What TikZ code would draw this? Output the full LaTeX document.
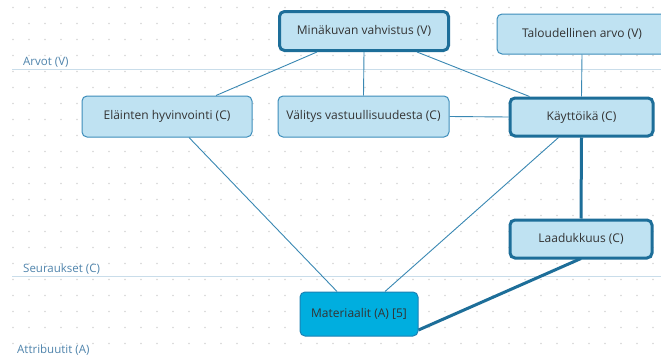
\documentclass[tikz,border=0pt]{standalone}
\usepackage{fontspec}
\setmainfont{Open Sans}
\begin{document}
\begin{tikzpicture}[x=1pt,y=-1pt,
  box/.style={draw=boxedge,fill=boxfill,rounded corners=5pt,line width=1pt,
    inner sep=0pt,text=black!80,font=\fontsize{12}{14}\selectfont},
  heavy/.style={line width=3pt,draw=heavyedge},
  attr/.style={box,fill=attrfill,draw=attredge},
  link/.style={draw=linkcol,line width=0.9pt},
  strong/.style={draw=heavyedge,line width=3pt},
  level/.style={draw=levelcol,line width=0.7pt},
  levellabel/.style={anchor=base west,text=labelcol,inner sep=0pt,font=\fontsize{11.5}{13}\selectfont}]
\definecolor{boxfill}{HTML}{BFE2F2}
\definecolor{boxedge}{HTML}{3D8DBA}
\definecolor{heavyedge}{HTML}{1D6E99}
\definecolor{attrfill}{HTML}{00AEDF}
\definecolor{attredge}{HTML}{1B82B5}
\definecolor{linkcol}{HTML}{3A88B3}
\definecolor{levelcol}{HTML}{C9DDEA}
\definecolor{labelcol}{HTML}{4F84AC}
\definecolor{dotcol}{HTML}{D6D6D6}
\useasboundingbox (0,0) rectangle (661,356);
\fill[white] (0,0) rectangle (661,356);
% background dot grid
\foreach \i in {0,...,40} {
  \foreach \j in {0,...,21} {
    \fill[dotcol] ({13+16*\i},{7.5+16*\j}) circle (0.9);
  }
}
% level separators and their labels
\draw[level] (12,69) -- (661,69);
\draw[level] (12,276) -- (661,276);
\node[levellabel] (lv) at (23,65) {Arvot (V)};
\node[levellabel] (lc) at (23,272) {Seuraukset (C)};
\node[levellabel] (la) at (17,353) {Attribuutit (A)};
% value level
\node[box,heavy,minimum width=169pt,minimum height=39pt] (min) at (364,31) {Minäkuvan vahvistus (V)};
\node[box,minimum width=170pt,minimum height=40pt] (tal) at (582,34) {Taloudellinen arvo (V)};
% consequence level
\node[box,minimum width=170pt,minimum height=41pt] (ela) at (167,116.5) {Eläinten hyvinvointi (C)};
\node[box,minimum width=171pt,minimum height=41pt] (val) at (363.5,116.5) {Välitys vastuullisuudesta (C)};
\node[box,heavy,minimum width=143pt,minimum height=38pt] (kay) at (581.5,117) {Käyttöikä (C)};
\node[box,heavy,minimum width=142pt,minimum height=38pt] (laa) at (581,239) {Laadukkuus (C)};
% attribute level
\node[attr,minimum width=118pt,minimum height=44pt] (mat) at (359,314) {Materiaalit (A) [5]};
% connections
\draw[link] ([xshift=-47pt]min.south) -- ([xshift=49pt]ela.north);
\draw[link] (min.south) -- (val.north);
\draw[link] ([xshift=53pt]min.south) -- ([xshift=-52pt]kay.north);
\draw[link] (tal.south) -- (kay.north);
\draw[link] (val.east) -- (kay.west);
\draw[link] ([xshift=22pt]ela.south) -- ([xshift=-22pt]mat.north);
\draw[link] ([xshift=-23pt]kay.south) -- ([xshift=26pt]mat.north);
\draw[strong] (kay.south) -- (laa.north);
\draw[strong] ([yshift=1pt]laa.south) -- ([yshift=-16pt]mat.east);
\end{tikzpicture}
\end{document}
